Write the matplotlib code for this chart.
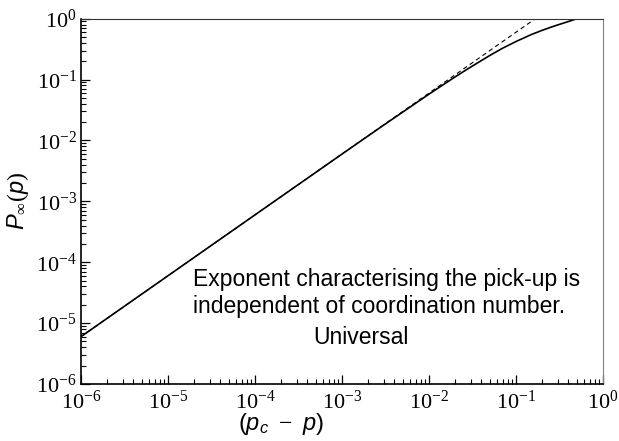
import matplotlib
matplotlib.use("Agg")
import matplotlib.pyplot as plt
from matplotlib.ticker import LogLocator, NullFormatter

plt.rcParams.update({
    "font.family": "Liberation Sans",
    "mathtext.fontset": "custom",
    "mathtext.rm": "Liberation Serif",
    "mathtext.it": "Liberation Sans:italic",
    "mathtext.sf": "Liberation Sans",
})

# P_inf vs (p_c - p)
dp = [1e-6, 1e-5, 1e-4, 1e-3, 3e-3, 1e-2, 2e-2, 3e-2, 5e-2, 7e-2, 0.1,
      0.15, 0.2, 0.25, 0.3, 0.35, 0.4, 0.45, 0.5]
p_inf = [6.0e-6, 6.0e-5, 6.0e-4, 5.98e-3, 1.78e-2, 5.77e-2, 0.111, 0.160,
         0.249, 0.327, 0.422, 0.549, 0.645, 0.722, 0.788, 0.845, 0.899,
         0.950, 1.0]

# linear asymptote (dashed)
fit_x = [1e-6, 0.1667]
fit_y = [6e-6, 1.0]

fig = plt.figure(figsize=(6.19, 4.41), dpi=100)
ax = fig.add_axes([81 / 619, 1 - 384 / 441, 522 / 619, 365.3 / 441])

ax.plot(fit_x, fit_y, color="black", lw=0.8, ls=(0, (4, 3)))
ax.plot(dp, p_inf, color="black", lw=1.2)

ax.set_xscale("log")
ax.set_yscale("log")
ax.set_xlim(1e-6, 1)
ax.set_ylim(1e-6, 1)

for a in (ax.xaxis, ax.yaxis):
    a.set_major_locator(LogLocator(base=10, numticks=10))
    a.set_minor_locator(LogLocator(base=10, subs=range(2, 10), numticks=10))
    a.set_minor_formatter(NullFormatter())

ax.tick_params(which="both", direction="in", top=False, right=False)
ax.tick_params(which="major", length=6.5, width=0.9, labelsize=16, pad=5,
               labelfontfamily="Liberation Serif")
ax.tick_params(which="minor", length=3.5, width=0.8)
ax.tick_params(axis="y", which="major", pad=3)

for s in ("left", "bottom"):
    ax.spines[s].set_color("black")
    ax.spines[s].set_linewidth(1.2)
ax.spines["top"].set_color("#333333")
ax.spines["right"].set_color("#808080")

ax.set_xlabel("($p_c\\ -\\ p$)", fontsize=17)
ax.xaxis.set_label_coords(0.383, -0.075)
ax.set_ylabel("$P_\\infty(p)$", fontsize=17, labelpad=4)

tkw = dict(transform=ax.transAxes, fontsize=16.5, va="center", ha="left")
ax.text(0.2146, 0.287, "Exponent characterising the pick-up is", **tkw)
ax.text(0.2146, 0.211, "independent of coordination number.", **tkw)
ax.text(0.444, 0.126, "Universal", **tkw)

fig.savefig("out.png", dpi=100)
